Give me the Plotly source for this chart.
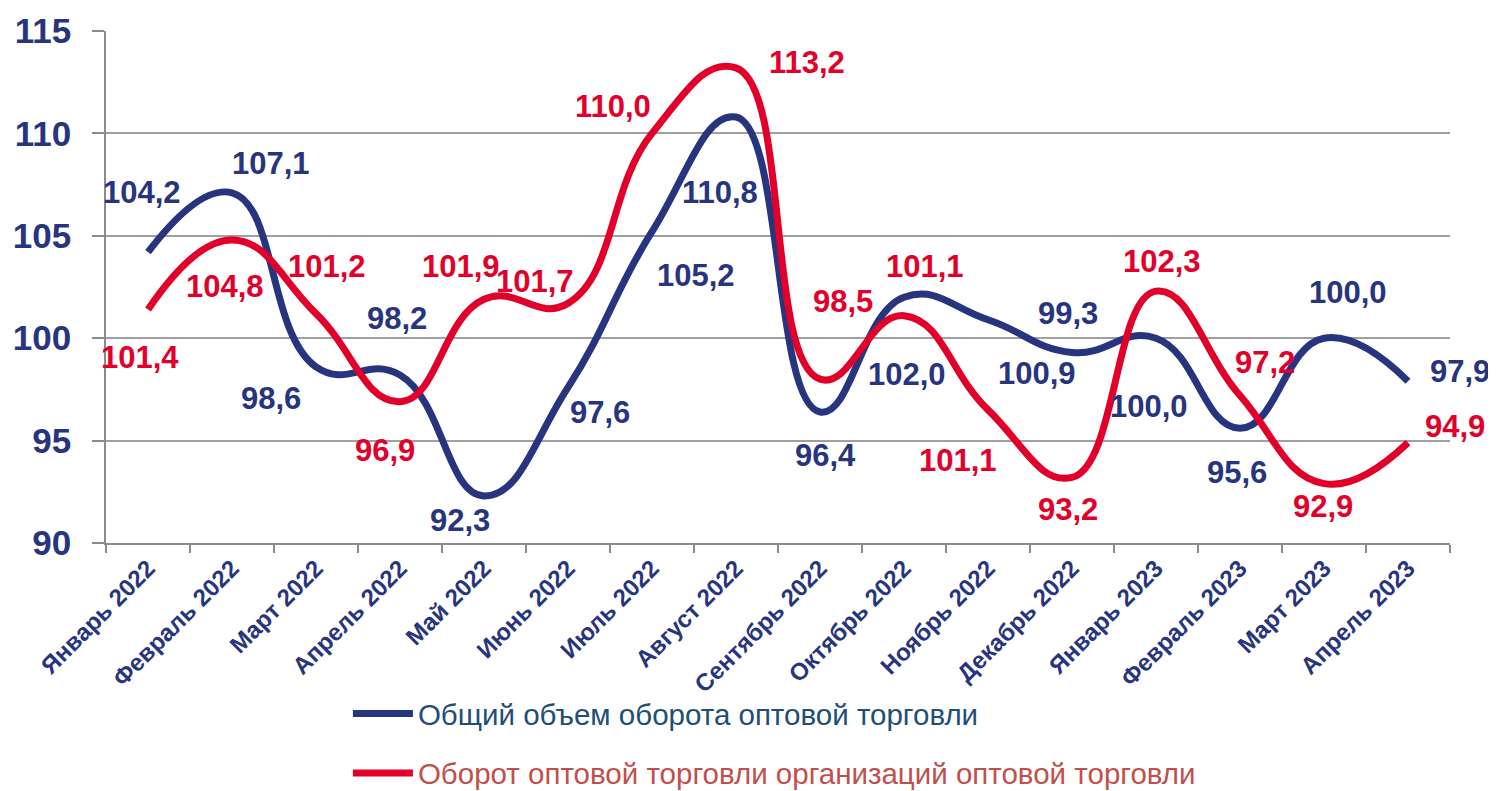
import plotly.graph_objects as go

months = ["Январь 2022", "Февраль 2022", "Март 2022", "Апрель 2022", "Май 2022",
          "Июнь 2022", "Июль 2022", "Август 2022", "Сентябрь 2022", "Октябрь 2022",
          "Ноябрь 2022", "Декабрь 2022", "Январь 2023", "Февраль 2023", "Март 2023",
          "Апрель 2023"]

total_values = [104.2, 107.1, 98.6, 98.2, 92.3, 97.6, 105.2, 110.8, 96.4, 102.0,
                100.9, 99.3, 100.0, 95.6, 100.0, 97.9]
total_labels = ["104,2", "107,1", "98,6", "98,2", "92,3", "97,6", "105,2", "110,8",
                "96,4", "102,0", "100,9", "99,3", "100,0", "95,6", "100,0", "97,9"]

org_values = [101.4, 104.8, 101.2, 96.9, 101.9, 101.7, 110.0, 113.2, 98.0, 101.1,
              96.5, 93.2, 102.3, 97.2, 92.9, 94.9]
org_labels = ["101,4", "104,8", "101,2", "96,9", "101,9", "101,7", "110,0", "113,2",
              "98,5", "101,1", "101,1", "93,2", "102,3", "97,2", "92,9", "94,9"]

series_names = ["Общий объем оборота оптовой торговли",
                "Оборот оптовой торговли организаций оптовой торговли"]

y_ticks = [90, 95, 100, 105, 110, 115]

# label placement offsets (px) relative to each point
total_dx = [-6, 39, -45, -3, -24, 32, 44, -16, 5, 3, 49, -4, -7, -3, 24, 52]
total_dy = [60, 29, -32, 57, -25, -25, -44, -75, -44, -77, -54, 39, -68, -44, 46, 10]
org_dx = [-8, -7, 11, -15, -23, -33, -39, 71, 23, 21, -30, -4, 6, 25, -1, 47]
org_dy = [-48, -47, 47, -49, 33, 22, 27, 5, 78, 49, -51, -32, 30, 33, -23, 16]

BLUE = "#27357F"
RED = "#E2002A"
LEG_BLUE = "#1F4E79"
LEG_RED = "#C0504D"
FONT = "Liberation Sans, Arial, sans-serif"

fig = go.Figure()
fig.add_trace(go.Scatter(
    x=months, y=total_values, mode="lines",
    line=dict(color=BLUE, width=7, shape="spline", smoothing=1.3),
    name=f"<span style='color:{LEG_BLUE}'>{series_names[0]}</span>",
    legendgroup="a", hoverinfo="skip"))
fig.add_trace(go.Scatter(
    x=months, y=org_values, mode="lines",
    line=dict(color=RED, width=7, shape="spline", smoothing=1.3),
    name=f"<span style='color:{LEG_RED}'>{series_names[1]}</span>",
    legendgroup="b", hoverinfo="skip"))

annotations = []
for m, v, t, dx, dy in zip(months, total_values, total_labels, total_dx, total_dy):
    annotations.append(dict(x=m, y=v, text=t, showarrow=False, xshift=dx, yshift=dy,
                            font=dict(family=FONT, size=31, color=BLUE, weight="bold")))
for m, v, t, dx, dy in zip(months, org_values, org_labels, org_dx, org_dy):
    annotations.append(dict(x=m, y=v, text=t, showarrow=False, xshift=dx, yshift=dy,
                            font=dict(family=FONT, size=31, color=RED, weight="bold")))

# page body has an 8px margin, so the figure is drawn 8px smaller and margins compensate
fig.update_layout(
    width=1488, height=783,
    margin=dict(l=98, r=46, t=23, b=248, autoexpand=False),
    plot_bgcolor="white", paper_bgcolor="white",
    showlegend=True,
    legend=dict(x=0.18, y=-0.283, xanchor="left", yanchor="top",
                orientation="v", tracegroupgap=18, itemwidth=60,
                font=dict(family=FONT, size=29.5, color=LEG_BLUE),
                bgcolor="rgba(0,0,0,0)"),
    annotations=annotations,
)
fig.update_xaxes(
    type="category", tickangle=-45, tickson="boundaries",
    ticks="outside", ticklen=8, tickcolor="#8C8C8C", tickwidth=1.5,
    showline=True, linecolor="#8C8C8C", linewidth=1.5, showgrid=False,
    tickfont=dict(family=FONT, size=24, color=BLUE, weight="bold"),
    range=[-0.5, 15.5],
)
fig.update_yaxes(
    range=[90, 115], tickvals=y_ticks, ticktext=[str(v) for v in y_ticks],
    ticks="outside", ticklen=12, tickcolor="#8C8C8C", tickwidth=1.5,
    showline=True, linecolor="#8C8C8C", linewidth=1.5,
    showgrid=True, gridcolor="#A0A0A0", gridwidth=1.5, zeroline=False,
    tickfont=dict(family=FONT, size=35, color=BLUE, weight="bold"),
    ticklabelstandoff=14,
)

fig.write_html("out.html")
